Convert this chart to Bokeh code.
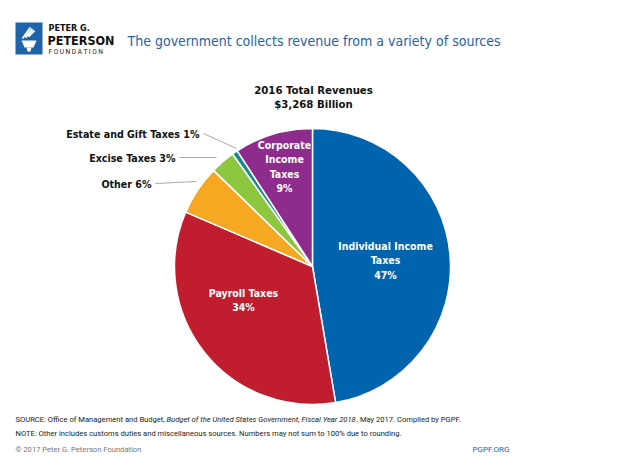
from bokeh.plotting import figure
from bokeh.models import Range1d
from bokeh.embed import file_html
from bokeh.resources import INLINE
from bokeh.core.properties import value
import numpy as np

W, H = 619, 464

# ---- data (2016 federal revenues, $ billions) ----
categories = ["Individual Income Taxes", "Payroll Taxes", "Other",
              "Excise Taxes", "Estate and Gift Taxes", "Corporate Income Taxes"]
revenues = [1546, 1115, 190, 95, 21, 300]
percents = [47, 34, 6, 3, 1, 9]
colors = ["#0063AE", "#C01E2E", "#F7A823", "#8DC63F", "#17898F", "#8E2C8E"]
total_year = "2016 Total Revenues"
total_label = "$3,268 Billion"

title = "The government collects revenue from a variety of sources"

FONT = "DejaVu Sans Condensed"
SANS = "Roboto"

def Y(v):
    return H - v

p = figure(width=W, height=H, x_range=Range1d(0, W), y_range=Range1d(0, H),
           output_backend="svg", toolbar_location=None, min_border=0,
           outline_line_color=None, background_fill_color="white")
p.axis.visible = False
p.grid.visible = False

# ---- pie ----
cx, cy, r = 312, Y(266), 138
vals = np.array(revenues, dtype=float)
frac = vals / vals.sum()
cum = np.concatenate([[0], np.cumsum(frac)])
start = np.pi / 2 - cum[:-1] * 2 * np.pi
end = np.pi / 2 - cum[1:] * 2 * np.pi
p.wedge(x=cx, y=cy, radius=r, start_angle=start, end_angle=end,
        direction="clock", fill_color=colors, line_color="white", line_width=1.5)

# ---- labels inside slices ----
def lines(x, y0, texts, size="10.5px", color="white", step=14.5, align="center"):
    p.text(x=[x] * len(texts), y=[Y(y0 + i * step) for i in range(len(texts))],
           text=texts, text_font=value(FONT), text_font_style="bold",
           text_font_size=size, text_color=color, text_align=align,
           text_baseline="middle")

lines(385, 245, ["Individual Income", "Taxes", f"{percents[0]}%"])
lines(243, 292, ["Payroll Taxes", f"{percents[1]}%"])
lines(284, 144, ["Corporate", "Income", "Taxes", f"{percents[5]}%"])

# ---- outside labels with leader lines ----
out = [(2, 151, 183, 196, 181), (3, 175, 157, 216, 157), (4, 199, 133, 236, 148)]
for idx, xr, yy, x2, y2 in out:
    p.line(x=[xr + 4, x2], y=[Y(yy), Y(y2)], line_color="#A8A8A8", line_width=1)
    lines(xr, yy, [f"{categories[idx]} {percents[idx]}%"], size="10.6px",
          color="#111111", align="right")

# total
lines(313, 90, [total_year, total_label], size="11.3px", color="#111111", step=14)

# ---- header / logo ----
p.quad(left=15, right=42, bottom=Y(54), top=Y(22), fill_color="#1F63A8", line_color=None)
# simple torch glyph
p.patch(x=[21, 36, 33, 24], y=[Y(40), Y(40), Y(47), Y(47)], fill_color="white", line_color=None)
p.patch(x=[26, 31, 30, 27], y=[Y(47), Y(47), Y(51), Y(51)], fill_color="white", line_color=None)
for k in range(3):
    p.line(x=[22 + 3 * k, 30 + 2 * k], y=[Y(38 - 1 * k), Y(27 + 1.5 * k)],
           line_color="white", line_width=2)

p.text(x=[48], y=[Y(27)], text=["PETER G."], text_font=value(FONT), text_font_style="bold",
       text_font_size="9px", text_color="#111111", text_baseline="middle")
p.text(x=[47], y=[Y(40)], text=["PETERSON"], text_font=value(FONT), text_font_style="bold",
       text_font_size="12.5px", text_color="#111111", text_baseline="middle")
p.text(x=[48], y=[Y(51)], text=["F O U N D A T I O N"], text_font=value(SANS),
       text_font_size="6.5px", text_color="#222222", text_baseline="middle")

p.text(x=[127], y=[Y(40)], text=[title], text_font=value(FONT),
       text_font_size="14px", text_color="#1F63A8", text_baseline="middle")

# ---- footer ----
def ft(x, y, t, style="normal", color="#222222", size="7.6px", align="left"):
    p.text(x=[x], y=[Y(y)], text=[t], text_font=value(SANS), text_font_style=style,
           text_font_size=size, text_color=color, text_baseline="middle", text_align=align)

ft(15, 419, "SOURCE: Office of Management and Budget,")
ft(166, 419, "Budget of the United States Government, Fiscal Year 2018", style="italic")
ft(356, 419, ", May 2017. Compiled by PGPF.")
ft(15, 433, "NOTE: Other includes customs duties and miscellaneous sources. Numbers may not sum to 100% due to rounding.")
ft(15, 449, "\u00a9 2017 Peter G. Peterson Foundation", color="#777777")
ft(509, 449, "PGPF.ORG", color="#1F63A8", align="right", size="8px")

open("out.html", "w").write(file_html(p, INLINE))
